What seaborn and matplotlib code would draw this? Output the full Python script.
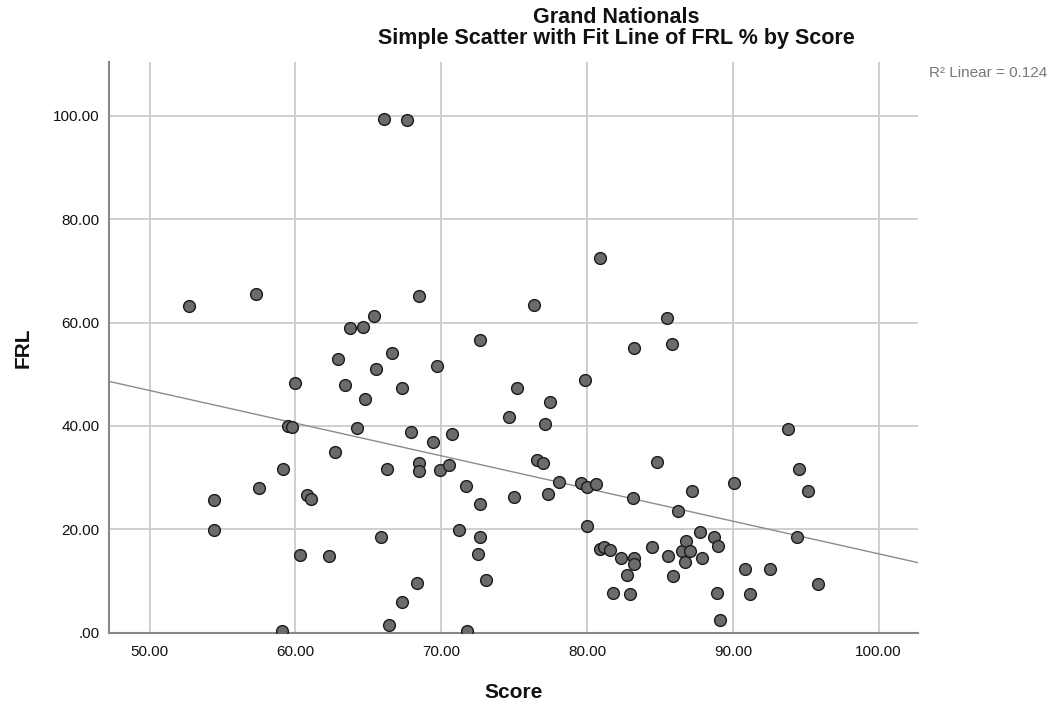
import matplotlib
matplotlib.use("Agg")
import matplotlib.pyplot as plt
import seaborn as sns
import pandas as pd

score = [52.68, 54.42, 54.42, 57.28, 57.48, 59.18, 59.09, 59.5, 59.77, 60.0,
         60.3, 60.78, 61.08, 62.33, 62.7, 62.93, 63.43, 63.73, 64.26, 64.62,
         64.81, 65.37, 65.56, 65.86, 66.05, 66.27, 66.43, 66.66, 67.28, 67.3,
         67.64, 67.94, 68.37, 68.49, 68.49, 68.49, 69.42, 69.68, 69.95, 70.55,
         70.75, 71.25, 71.72, 71.78, 72.51, 72.63, 72.63, 72.68, 73.09, 74.62,
         75.01, 75.17, 76.36, 76.54, 77.0, 77.09, 77.3, 77.45, 78.1, 79.61,
         79.88, 79.97, 80.02, 80.61, 80.86, 80.86, 81.16, 81.6, 81.8, 82.33,
         82.77, 82.92, 83.13, 83.2, 83.22, 83.22, 84.45, 84.83, 85.51, 85.58,
         85.81, 85.9, 86.22, 86.51, 86.79, 86.72, 87.09, 87.2, 87.75, 87.9,
         88.69, 88.88, 88.96, 89.12, 90.11, 90.84, 91.21, 92.53, 93.77, 94.38,
         94.57, 95.14, 95.85]
frl = [63.2, 25.7, 19.9, 65.6, 28.0, 31.7, 0.4, 40.0, 39.7, 48.3,
       15.0, 26.6, 25.8, 14.8, 35.0, 53.0, 47.9, 58.9, 39.6, 59.2,
       45.2, 61.3, 51.1, 18.6, 99.3, 31.6, 1.5, 54.2, 47.3, 5.9,
       99.2, 38.8, 9.7, 65.1, 32.9, 31.3, 36.9, 51.6, 31.5, 32.4,
       38.4, 19.8, 28.4, 0.3, 15.2, 24.9, 56.7, 18.5, 10.2, 41.8,
       26.2, 47.3, 63.4, 33.4, 32.8, 40.3, 26.8, 44.6, 29.1, 29.0,
       48.9, 28.2, 20.6, 28.7, 72.5, 16.2, 16.5, 15.9, 7.7, 14.4,
       11.2, 7.5, 26.0, 14.4, 13.3, 55.1, 16.5, 33.1, 60.8, 14.8,
       55.8, 10.9, 23.5, 15.8, 17.8, 13.7, 15.8, 27.5, 19.5, 14.5,
       18.6, 7.7, 16.7, 2.5, 29.0, 12.3, 7.4, 12.3, 39.5, 18.5,
       31.6, 27.4, 9.4]

x_ticks = [50, 60, 70, 80, 90, 100]
x_ticklabels = ["50.00", "60.00", "70.00", "80.00", "90.00", "100.00"]
y_ticks = [0, 20, 40, 60, 80, 100]
y_ticklabels = [".00", "20.00", "40.00", "60.00", "80.00", "100.00"]

title = "Grand Nationals\nSimple Scatter with Fit Line of FRL % by Score"
r2_text = "R\u00b2 Linear = 0.124"

df = pd.DataFrame({"Score": score, "FRL": frl})

sns.set_theme(style="white")
plt.rcParams["font.family"] = ["Liberation Sans", "DejaVu Sans"]

fig = plt.figure(figsize=(10.51, 7.10), dpi=100)
ax = fig.add_axes([0.1034, 0.1089, 0.7701, 0.8037])
ax.set_xlim(47.2, 102.7)
ax.set_ylim(0, 110.4)

for xv in x_ticks:
    ax.axvline(xv, color="#cccccc", lw=1.3, zorder=0)
for yv in y_ticks[1:]:
    ax.axhline(yv, color="#cccccc", lw=1.3, zorder=0)

sns.regplot(data=df, x="Score", y="FRL", ax=ax, ci=None, truncate=False,
            scatter_kws=dict(s=72, color="#6b6b6b", edgecolors="#1a1a1a",
                             linewidths=1.0, alpha=1, zorder=3),
            line_kws=dict(color="#8c8c8c", lw=1.0, zorder=2))
ax.set_xlim(47.2, 102.7)
ax.set_ylim(0, 110.4)

ax.set_xticks(x_ticks)
ax.set_xticklabels(x_ticklabels, fontsize=11, color="#111111")
ax.set_yticks(y_ticks)
ax.set_yticklabels(y_ticklabels, fontsize=11, color="#111111")
ax.tick_params(axis="x", length=0, pad=9)
ax.tick_params(axis="y", length=0, pad=6.5)

ax.set_xlabel("Score", fontsize=15, fontweight="bold", labelpad=17, color="#111111")
ax.set_ylabel("FRL", fontsize=15, fontweight="bold", labelpad=15, color="#111111")

for s in ["top", "right"]:
    ax.spines[s].set_visible(False)
for s in ["left", "bottom"]:
    ax.spines[s].set_color("#888888")
    ax.spines[s].set_linewidth(1.5)

fig.text(0.586, 0.99, title, ha="center", va="top", fontsize=15.5,
         fontweight="bold", linespacing=0.98, color="#111111")
fig.text(0.996, 0.897, r2_text, ha="right", va="center", fontsize=11,
         color="#777777")

fig.savefig("out.png", dpi=100)
